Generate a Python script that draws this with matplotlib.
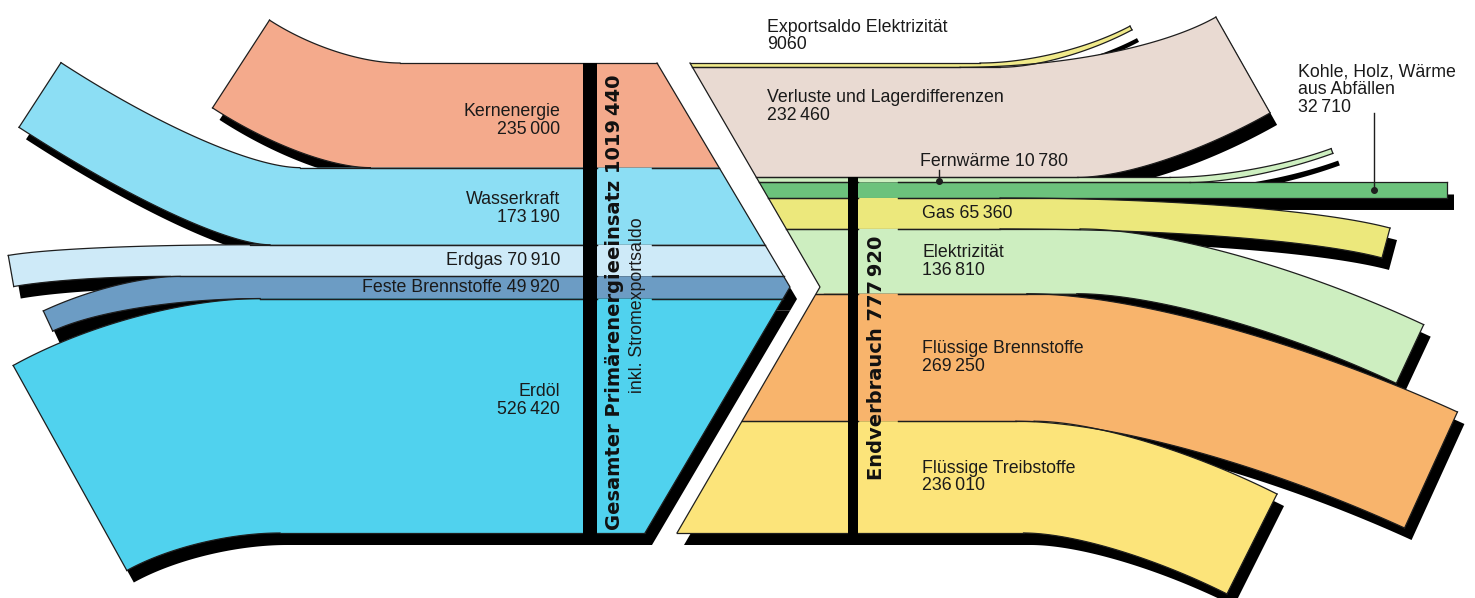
import numpy as np
import matplotlib.pyplot as plt
from matplotlib.patches import Polygon, Rectangle

plt.rcParams['font.family'] = ['Liberation Sans', 'DejaVu Sans']

# Primärenergie (links), von oben nach unten
src_names = ['Kernenergie', 'Wasserkraft', 'Erdgas', 'Feste Brennstoffe', 'Erdöl']
src_values = [235000, 173190, 70910, 49920, 526420]
src_colors = ['#f4aa8c', '#8cdef4', '#ceeaf8', '#6c9cc4', '#50d2ee']

# Verwendung (rechts), von oben nach unten
use_names = ['Exportsaldo Elektrizität', 'Verluste und Lagerdifferenzen', 'Fernwärme',
             'Kohle, Holz, Wärme\naus Abfällen', 'Gas', 'Elektrizität',
             'Flüssige Brennstoffe', 'Flüssige Treibstoffe']
use_values = [9060, 232460, 10780, 32710, 65360, 136810, 269250, 236010]
use_colors = ['#f0ea8a', '#e9dad2', '#cdefc0', '#6cc27c', '#ece87c', '#cdeec0',
              '#f8b46c', '#fce47a']

total_primary = 1019440
total_final = 777920


def fmt(v):
    # only the last group is split off, as in the original ("1019 440")
    if v < 10000:
        return str(v)
    return f'{v // 1000}\u2009{v % 1000:03d}'


# layout (pixel coordinates, y downwards)
TOP, BOTTOM = 63, 533
SHADOW = np.array([7, 12])
EDGE = '#1e1e1e'
left_tip = [(657, TOP), (790, 287), (645, BOTTOM)]
right_notch = [(690, TOP), (820, 287), (677, BOTTOM)]

# ribbon ends: centre of the cut, angle above horizontal, x where top / bottom edge start to bend
src_end = [(241, 64), (40, 95), (11, 271), (48, 321), (70, 468)]
src_angle = [33, 33, -10, -25, -29]
src_bend = [(400, 300), (300, 270), (250, 170), (180, 260), (260, 280)]

use_end = [(1131, 28), (1243, 65), (1332, 151), (1447, None), (1386, 243),
           (1410, 354), (1431, 470), (1252, 544)]
use_angle = [28, 29.5, 20, 0, -15, -25, -24.5, -26.6]
use_bend = [(980, 1000), (960, 1150), (1170, 1190), (1447, 1447), (1000, 1000),
            (1080, 1150), (1150, 1100), (1100, 1080)]


def boundary_x(pts, y):
    return np.interp(y, [p[1] for p in pts], [p[0] for p in pts])


def edge(x0, y0, xb, corner, d, s):
    p0 = np.array([xb, y0], float)
    p3 = np.array(corner, float)
    t = np.linspace(0, 1, 80)[:, None]
    if abs(d[1]) < 1e-6 or abs(p3[1] - y0) < 1e-6:
        curve = (1 - t) * p0 + t * p3
        return np.vstack([[x0, y0], curve])
    u = (p3[1] - y0) / d[1]
    q = p3 - u * d
    if u <= 0:
        p1 = p0 + np.array([s * 0.5 * np.hypot(*(p3 - p0)), 0])
        p2 = p3 - 0.4 * np.hypot(*(p3 - p0)) * d
    else:
        if s * (q[0] - p0[0]) < 0.3 * u:
            p0 = np.array([q[0] - s * 0.6 * u, y0])
        p1 = p0 + 0.6 * (q - p0)
        p2 = p3 + 0.6 * (q - p3)
    curve = (1 - t)**3 * p0 + 3 * (1 - t)**2 * t * p1 + 3 * (1 - t) * t**2 * p2 + t**3 * p3
    return np.vstack([[x0, y0], curve])


def ribbon(y0, y1, end, angle, bend, s, bound):
    w = y1 - y0
    yc = (y0 + y1) / 2
    ey = yc if end[1] is None else end[1]
    a = np.radians(angle)
    d = np.array([s * np.cos(a), -np.sin(a)])
    n_up = s * np.array([d[1], -d[0]])
    ct = np.array([end[0], ey]) + n_up * w / 2
    cb = np.array([end[0], ey]) - n_up * w / 2
    top = edge(boundary_x(bound, y0), y0, bend[0], ct, d, s)
    bot = edge(boundary_x(bound, y1), y1, bend[1], cb, d, s)
    mid = [p for p in bound if y0 < p[1] < y1]
    parts = [top[::-1]] + ([np.array(mid, float)] if mid else []) + [bot]
    return np.vstack(parts), top, bot


def draw_edge(ax, pts, gap):
    ax.plot(pts[1:, 0], pts[1:, 1], color=EDGE, lw=0.9, zorder=3)
    lo, hi = sorted((pts[0, 0], pts[1, 0]))
    y = pts[0, 1]
    if gap and lo < gap[0] and gap[1] < hi:
        segs = [(lo, gap[0]), (gap[1], hi)]
    else:
        segs = [(lo, hi)]
    for a, b in segs:
        ax.plot([a, b], [y, y], color=EDGE, lw=0.9, zorder=3)


kl = (BOTTOM - TOP) / sum(src_values)
src_y = TOP + kl * np.concatenate([[0], np.cumsum(src_values)])
kr = (BOTTOM - TOP) / sum(use_values)
use_y = TOP + kr * np.concatenate([[0], np.cumsum(use_values)])

fig = plt.figure(figsize=(14.75, 5.98), dpi=100)
ax = fig.add_axes([0, 0, 1, 1])
ax.set_xlim(0, 1475)
ax.set_ylim(598, 0)
ax.axis('off')

bands = []
for i in range(len(src_values)):
    poly, top, bot = ribbon(src_y[i], src_y[i + 1], src_end[i], src_angle[i],
                            src_bend[i], -1, left_tip)
    gap_t = (597, 652) if i > 0 else None
    gap_b = (597, 652) if i < len(src_values) - 1 else None
    bands.append((poly, top, bot, src_colors[i], gap_t, gap_b))

fern_top = use_y[2]
for i in range(len(use_values)):
    poly, top, bot = ribbon(use_y[i], use_y[i + 1], use_end[i], use_angle[i],
                            use_bend[i], 1, right_notch)
    gap_t = (858, 898) if i >= 3 else None
    gap_b = (858, 898) if 2 <= i < len(use_values) - 1 else None
    bands.append((poly, top, bot, use_colors[i], gap_t, gap_b))

for poly, top, bot, col, gt, gb in bands:
    ax.add_patch(Polygon(poly + SHADOW, closed=True, fc='black', ec='none', zorder=1))
for poly, top, bot, col, gt, gb in bands:
    ax.add_patch(Polygon(poly, closed=True, fc=col, ec='none', zorder=2))
    draw_edge(ax, top, gt)
    draw_edge(ax, bot, gb)
    ax.plot([top[-1, 0], bot[-1, 0]], [top[-1, 1], bot[-1, 1]], color=EDGE, lw=0.9, zorder=3)

for pts in (left_tip, right_notch):
    ax.plot([p[0] for p in pts], [p[1] for p in pts], color=EDGE, lw=0.9, zorder=3)

# black columns
ax.add_patch(Rectangle((583, TOP), 14, BOTTOM - TOP + 4, fc='black', ec='none', zorder=4))
ax.add_patch(Rectangle((848, fern_top), 10, BOTTOM - fern_top + 4, fc='black', ec='none', zorder=4))

FS = 12.8
TXT = '#1a1a1a'
# left labels
src_dy = [5, 2, 0, 0, -15]
for i, name in enumerate(src_names):
    yc = (src_y[i] + src_y[i + 1]) / 2 + src_dy[i]
    if src_values[i] < 100000:
        txt = f'{name} {fmt(src_values[i])}'
    else:
        txt = f'{name}\n{fmt(src_values[i])}'
    ax.text(560, yc, txt, ha='right', va='center', fontsize=FS, linespacing=1.05,
            color=TXT, zorder=5)

ax.text(614, 530, f'Gesamter Primärenergieeinsatz {fmt(total_primary)}', rotation=90,
        ha='center', va='bottom', fontsize=14, fontweight='bold', family=['DejaVu Sans'],
        color='#111111', zorder=5)
ax.text(638, 393, 'inkl. Stromexportsaldo', rotation=90, ha='center', va='bottom',
        fontsize=FS, color=TXT, zorder=5)
ax.text(876, 480, f'Endverbrauch {fmt(total_final)}', rotation=90,
        ha='center', va='bottom', fontsize=14, fontweight='bold', family=['DejaVu Sans'],
        color='#111111', zorder=5)

# right labels
ax.text(767, 36, f'{use_names[0]}\n{fmt(use_values[0])}', ha='left', va='center',
        fontsize=FS, linespacing=1.05, color=TXT, zorder=5)
ax.text(767, (use_y[1] + use_y[2]) / 2 - 16, f'{use_names[1]}\n{fmt(use_values[1])}',
        ha='left', va='center', fontsize=FS, linespacing=1.05, color=TXT, zorder=5)
ax.text(920, 162, f'{use_names[2]} {fmt(use_values[2])}', ha='left', va='center',
        fontsize=FS, color=TXT, zorder=5)
ax.plot([939, 939], [170, use_y[3]], color=EDGE, lw=1, zorder=5)
ax.plot(939, use_y[3] - 1, 'o', color=EDGE, ms=4, zorder=5)
ax.text(1298, 90, f'{use_names[3]}\n{fmt(use_values[3])}', ha='left', va='center',
        fontsize=FS, linespacing=1.05, color=TXT, zorder=5)
kohle_c = (use_y[3] + use_y[4]) / 2
ax.plot([1374, 1374], [113, kohle_c], color=EDGE, lw=1, zorder=5)
ax.plot(1374, kohle_c, 'o', color=EDGE, ms=4, zorder=5)
ax.text(922, (use_y[4] + use_y[5]) / 2, f'{use_names[4]} {fmt(use_values[4])}',
        ha='left', va='center', fontsize=FS, color=TXT, zorder=5)
for i in range(5, 8):
    yc = (use_y[i] + use_y[i + 1]) / 2
    ax.text(922, yc, f'{use_names[i]}\n{fmt(use_values[i])}', ha='left', va='center',
            fontsize=FS, linespacing=1.05, color=TXT, zorder=5)

fig.savefig('out.png', dpi=100)
